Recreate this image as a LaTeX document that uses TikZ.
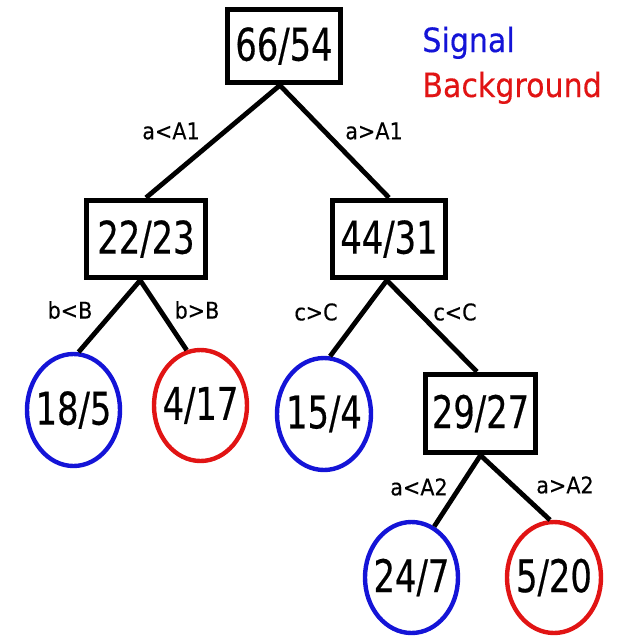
\documentclass[tikz,border=0pt]{standalone}
\usepackage{fontspec}
\usetikzlibrary{shapes.geometric}
\newfontfamily\numfont[FakeStretch=0.75,FakeBold=0.4]{DejaVu Sans}
\newfontfamily\labfont[FakeStretch=0.9,FakeBold=0.3]{DejaVu Sans}
\definecolor{sigblue}{RGB}{20,20,215}
\definecolor{bkgred}{RGB}{225,20,20}
\begin{document}
\begin{tikzpicture}[x=0.5pt,y=-0.5pt,
  cutbox/.style={draw, rectangle, line width=2.8pt, inner sep=0pt,
    font=\numfont\fontsize{22.5pt}{24pt}\selectfont},
  leaf/.style={draw, ellipse, line width=2.2pt, inner sep=0pt,
    font=\numfont\fontsize{22.5pt}{24pt}\selectfont},
  sigleaf/.style={leaf, draw=sigblue},
  bkgleaf/.style={leaf, draw=bkgred},
  edge/.style={line width=2.4pt},
  cutlabel/.style={font=\labfont\fontsize{11.5pt}{13pt}\selectfont, inner sep=0pt},
  legend/.style={font=\labfont\fontsize{16.7pt}{18pt}\selectfont, anchor=base west, inner sep=0pt}]
\useasboundingbox (0,0) rectangle (617,638);

% decision boxes
\node[cutbox, minimum width=56.5pt, minimum height=36.5pt] (root) at (284,46) {66/54};
\node[cutbox, minimum width=59.5pt, minimum height=38.5pt] (n1) at (146,239) {22/23};
\node[cutbox, minimum width=56.5pt, minimum height=38.5pt] (n2) at (389,239) {44/31};
\node[cutbox, minimum width=55pt, minimum height=39pt] (n3) at (480.5,413.5) {29/27};

% leaves
\node[sigleaf, minimum width=46.5pt, minimum height=56pt] (l1) at (73.5,410) {\makebox[0pt]{18/5}};
\node[bkgleaf, minimum width=46.5pt, minimum height=55.5pt] (l2) at (200.5,405.5) {\makebox[0pt]{4/17}};
\node[sigleaf, minimum width=47pt, minimum height=56pt] (l3) at (324,414) {\makebox[0pt]{15/4}};
\node[sigleaf, minimum width=46.5pt, minimum height=55.5pt] (l4) at (411.5,577.5) {\makebox[0pt]{24/7}};
\node[bkgleaf, minimum width=47pt, minimum height=55.5pt] (l5) at (554,577.5) {\makebox[0pt]{5/20}};

% connectors
\draw[edge] (root.-96) -- (n1.north);
\draw[edge] (root.-96) -- (n2.north);
\draw[edge] (n1.-98) -- (l1.85.5);
\draw[edge] (n1.-98) -- (l2.104);
\draw[edge] (n2.-93) -- (l3.84);
\draw[edge] (n2.-93) -- (n3.95);
\draw[edge] (n3.south) -- (l4.66.5);
\draw[edge] (n3.south) -- (l5.94);

% cut labels
\node[cutlabel] (c1) at (171,131) {a<A1};
\node[cutlabel] (c2) at (374,131) {a>A1};
\node[cutlabel] (c3) at (70,310) {b<B};
\node[cutlabel] (c4) at (197,310) {b>B};
\node[cutlabel] (c5) at (316,312) {c>C};
\node[cutlabel] (c6) at (455,312) {c<C};
\node[cutlabel] (c7) at (419,487) {a<A2};
\node[cutlabel] (c8) at (565,485) {a>A2};

% legend
\node[legend, text=sigblue] (sig) at (422,52) {Signal};
\node[legend, text=bkgred] (bkg) at (422,97) {Background};
\end{tikzpicture}
\end{document}
